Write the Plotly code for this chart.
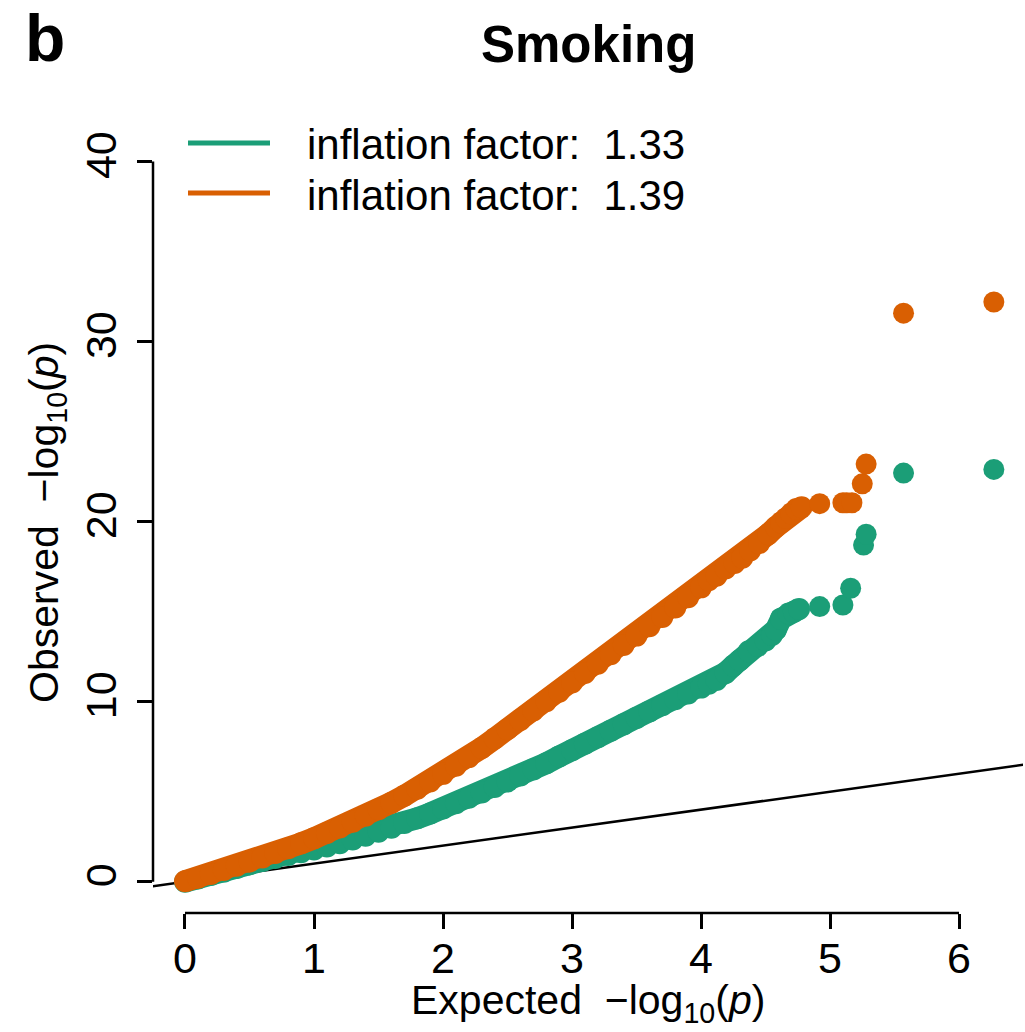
import plotly.graph_objects as go

# ---------------- data ----------------
# expected -log10(p) / observed -log10(p), dense part of each QQ curve
green_band_x = [0.0, 0.1, 0.2, 0.3, 0.4, 0.5, 0.6, 0.7, 0.8, 0.9,
                1.0, 1.1, 1.2, 1.3, 1.4, 1.5, 1.6, 1.7, 1.8, 1.9,
                2.0, 2.1, 2.2, 2.3, 2.4, 2.5, 2.6, 2.7, 2.8, 2.9,
                3.0, 3.1, 3.2, 3.3, 3.4, 3.5, 3.6, 3.7, 3.8, 3.9,
                4.0, 4.06, 4.12, 4.19, 4.25, 4.30, 4.37, 4.44, 4.50, 4.55,
                4.58, 4.62, 4.68, 4.72, 4.76]
green_band_y = [0.00, 0.18, 0.37, 0.56, 0.76, 0.96, 1.15, 1.32, 1.48, 1.63,
                1.79, 1.96, 2.14, 2.34, 2.55, 2.77, 3.00, 3.26, 3.52, 3.79,
                4.07, 4.36, 4.66, 4.96, 5.26, 5.56, 5.90, 6.24, 6.58, 6.95,
                7.30, 7.66, 8.02, 8.38, 8.74, 9.10, 9.45, 9.80, 10.13, 10.45,
                10.78, 11.0, 11.2, 11.6, 12.0, 12.3, 12.8, 13.1, 13.4, 13.7,
                14.0, 14.6, 14.9, 15.0, 15.15]
# isolated top points of the green series
green_tail_x = [4.92, 5.10, 5.16, 5.26, 5.28, 5.57, 6.27]
green_tail_y = [15.28, 15.37, 16.3, 18.7, 19.3, 22.7, 22.9]

orange_band_x = [0.0, 0.1, 0.2, 0.3, 0.4, 0.5, 0.6, 0.7, 0.8, 0.9,
                 1.0, 1.1, 1.2, 1.3, 1.4, 1.5, 1.6, 1.7, 1.8, 1.9,
                 2.0, 2.1, 2.2, 2.3, 2.4, 2.5, 2.6, 2.7, 2.8, 2.9,
                 3.0, 3.1, 3.2, 3.3, 3.4, 3.5, 3.6, 3.7, 3.8, 3.9,
                 4.0, 4.06, 4.12, 4.19, 4.26, 4.32, 4.38, 4.45, 4.52, 4.58,
                 4.62, 4.66, 4.70, 4.74, 4.78]
orange_band_y = [0.02, 0.22, 0.43, 0.65, 0.88, 1.11, 1.35, 1.60, 1.86, 2.13,
                 2.41, 2.70, 3.01, 3.33, 3.67, 4.02, 4.39, 4.77, 5.16, 5.57,
                 5.99, 6.44, 6.92, 7.43, 7.95, 8.47, 8.99, 9.51, 10.03, 10.55,
                 11.07, 11.59, 12.11, 12.63, 13.15, 13.67, 14.19, 14.71, 15.23, 15.80,
                 16.35, 16.75, 17.0, 17.4, 17.7, 18.0, 18.4, 18.8, 19.3, 19.7,
                 19.95, 20.2, 20.45, 20.7, 20.8]
orange_tail_x = [4.92, 5.10, 5.13, 5.17, 5.25, 5.28, 5.57, 6.27]
orange_tail_y = [21.0, 21.05, 21.05, 21.05, 22.1, 23.2, 31.58, 32.2]

# reference line y = x (drawn across the whole panel and clipped)
ref_line = [-1.0, 7.0]

x_ticks = [0, 1, 2, 3, 4, 5, 6]
y_ticks = [0, 10, 20, 30, 40]

legend_labels = ["inflation factor:\u00a0 1.33", "inflation factor:\u00a0 1.39"]
title_text = "Smoking"
panel_letter = "b"

GREEN = "#1B9E77"
ORANGE = "#D95F02"
FONT = "Liberation Sans, Arial, Helvetica, sans-serif"

# ---------------- figure geometry (pixels) ----------------
W, H = 1025, 1032
L, R, T, B = 153, 2, 133, 119
PW, PH = W - L - R, H - T - B


def py2paper(py):
    return (H - B - py) / PH


def px2paper(px):
    return (px - L) / PW


BAND = 22   # thickness of the dense run of points
DOT = 21    # diameter of isolated points

fig = go.Figure()

fig.add_trace(go.Scatter(x=ref_line, y=ref_line, mode="lines",
                         line=dict(color="black", width=2.5),
                         hoverinfo="skip", showlegend=False))

for bx, by, tx, ty, col in [
    (green_band_x, green_band_y, green_tail_x, green_tail_y, GREEN),
    (orange_band_x, orange_band_y, orange_tail_x, orange_tail_y, ORANGE),
]:
    fig.add_trace(go.Scatter(x=bx, y=by, mode="lines+markers",
                             line=dict(color=col, width=BAND),
                             marker=dict(color=col, size=BAND, line=dict(width=0)),
                             showlegend=False, cliponaxis=False))
    fig.add_trace(go.Scatter(x=tx, y=ty, mode="markers",
                             marker=dict(color=col, size=DOT, line=dict(width=0)),
                             showlegend=False, cliponaxis=False))

fig.update_xaxes(range=[-0.248, 6.496], showgrid=False, zeroline=False,
                 showline=False, tickmode="array", tickvals=x_ticks,
                 ticktext=[str(v) for v in x_ticks],
                 ticks="outside", ticklen=15, tickwidth=2.5, tickcolor="black",
                 tickfont=dict(family=FONT, size=43, color="black"),
                 ticklabelstandoff=-8)
fig.update_yaxes(range=[-1.74, 41.59], showgrid=False, zeroline=False,
                 showline=False, tickmode="array", tickvals=y_ticks,
                 ticktext=[str(v) for v in y_ticks],
                 ticks="outside", ticklen=15, tickwidth=2.5, tickcolor="black",
                 tickangle=-90,
                 tickfont=dict(family=FONT, size=43, color="black"),
                 ticklabelstandoff=4)

shapes = [
    # detached R-style axis lines spanning only the tick range
    dict(type="line", xref="x", yref="paper", x0=x_ticks[0], x1=x_ticks[-1],
         y0=0, y1=0, line=dict(color="black", width=2.5)),
    dict(type="line", xref="paper", yref="y", x0=0, x1=0,
         y0=y_ticks[0], y1=y_ticks[-1], line=dict(color="black", width=2.5)),
    # legend keys
    dict(type="line", xref="paper", yref="paper", x0=px2paper(188), x1=px2paper(270),
         y0=py2paper(143), y1=py2paper(143), line=dict(color=GREEN, width=5)),
    dict(type="line", xref="paper", yref="paper", x0=px2paper(188), x1=px2paper(270),
         y0=py2paper(193), y1=py2paper(193), line=dict(color=ORANGE, width=5)),
]

annotations = [
    dict(text=f"<b>{panel_letter}</b>", xref="paper", yref="paper",
         x=px2paper(45), y=py2paper(38), xanchor="center", yanchor="middle",
         showarrow=False, font=dict(family=FONT, size=66, color="black")),
    dict(text=f"<b>{title_text}</b>", xref="paper", yref="paper",
         x=0.5, y=py2paper(45), xanchor="center", yanchor="middle",
         showarrow=False, font=dict(family=FONT, size=51, color="black")),
    dict(text=legend_labels[0], xref="paper", yref="paper",
         x=px2paper(305), y=py2paper(145), xanchor="left", yanchor="middle",
         showarrow=False, font=dict(family=FONT, size=42, color="black")),
    dict(text=legend_labels[1], xref="paper", yref="paper",
         x=px2paper(305), y=py2paper(195), xanchor="left", yanchor="middle",
         showarrow=False, font=dict(family=FONT, size=42, color="black")),
    dict(text="Expected\u00a0 \u2212log<sub>10</sub>(<i>p</i>)", xref="paper", yref="paper",
         x=0.5, y=py2paper(1003), xanchor="center", yanchor="middle",
         showarrow=False, font=dict(family=FONT, size=41, color="black")),
    dict(text="Observed\u00a0 \u2212log<sub>10</sub>(<i>p</i>)", xref="paper", yref="paper",
         x=px2paper(47), y=0.5, xanchor="center", yanchor="middle", textangle=-90,
         showarrow=False, font=dict(family=FONT, size=41, color="black")),
]

fig.update_layout(width=W, height=H,
                  margin=dict(l=L, r=R, t=T, b=B, pad=0, autoexpand=False),
                  paper_bgcolor="white", plot_bgcolor="white",
                  showlegend=False, shapes=shapes, annotations=annotations,
                  font=dict(family=FONT, color="black"))

fig.write_html("out.html", config={"displayModeBar": False})
